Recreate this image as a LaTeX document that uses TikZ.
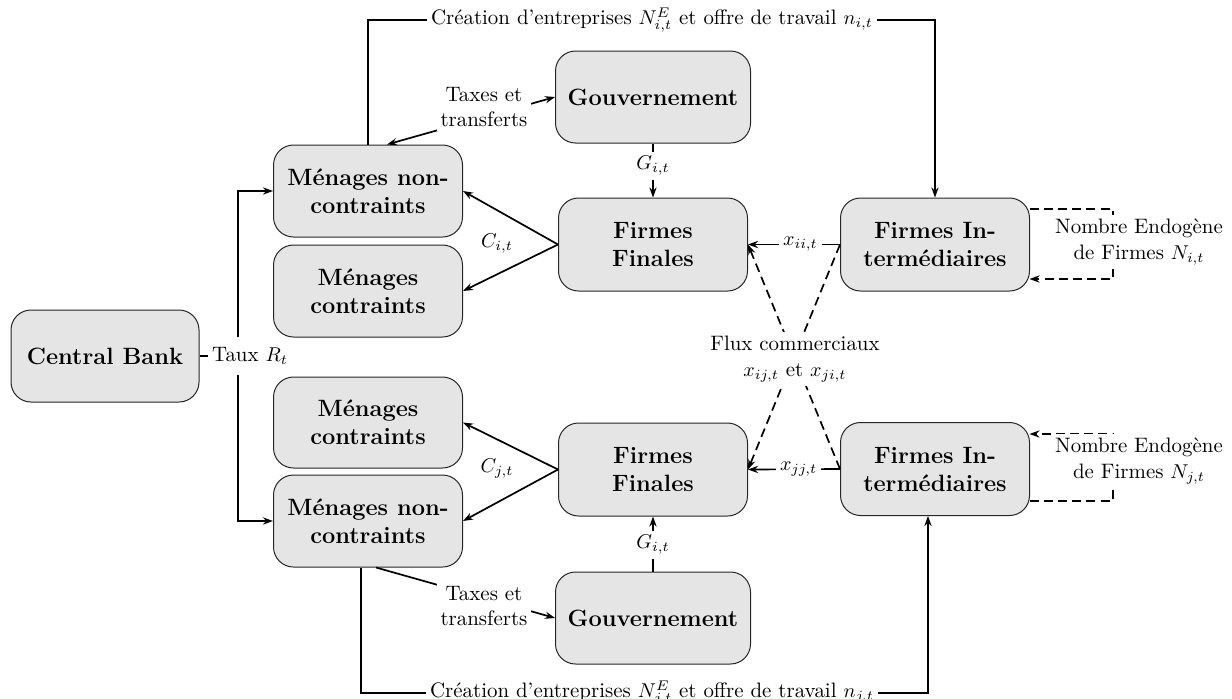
\documentclass[tikz,border=0pt]{standalone}
\usepackage{fontspec}
\usetikzlibrary{arrows.meta}
\newcommand\labfont{\fontsize{10.45}{12.6}\selectfont}
\newcommand\boxfont{\fontsize{11.8}{14}\selectfont\bfseries}
\tikzset{
  box/.style={draw=black!85, line width=0.5pt, fill=gray!20, rounded corners=10pt,
    minimum width=94.5pt, minimum height=46pt, align=center, font=\boxfont, inner sep=2pt},
  lab/.style={fill=white, inner sep=2pt, align=center, font=\labfont},
  plainlab/.style={inner sep=2pt, align=center, font=\labfont},
  conn/.style={line width=0.85pt},
  arr/.style={conn, -{Stealth[length=5pt,width=3.6pt]}},
  dsh/.style={dash pattern=on 4.5pt off 2.6pt}
}
\begin{document}
\begin{tikzpicture}[x=0.5pt,y=-0.5pt]
\useasboundingbox (0,0) rectangle (1232,698);
% boxes
\node[box, minimum width=97.5pt] (gov1) at (653,97) {Gouvernement};
\node[box] (mnc1) at (368,191) {Ménages non-\\contraints};
\node[box] (mc1) at (368,291) {Ménages\\contraints};
\node[box, minimum width=94pt] (cb) at (105,356) {Central Bank};
\node[box, minimum height=45.5pt] (mc2) at (368,422.5) {Ménages\\contraints};
\node[box] (mnc2) at (368,521) {Ménages non-\\contraints};
\node[box, minimum height=46.5pt] (ff1) at (653,244.5) {Firmes\\Finales};
\node[box, minimum height=46.5pt] (ff2) at (653,469.5) {Firmes\\Finales};
\node[box, minimum height=46.5pt] (fi1) at (935,244.5) {Firmes In-\\termédiaires};
\node[box, minimum height=46.5pt] (fi2) at (935,469) {Firmes In-\\termédiaires};
\node[box, minimum width=97.5pt] (gov2) at (653,618) {Gouvernement};

% top creation
\node[plainlab] (crea1) at (652,20) {Création d'entreprises $N^E_{i,t}$ et offre de travail $n_{i,t}$};
\draw[conn] (mnc1.north) |- (crea1.west);
\draw[arr] (crea1.east) -| (fi1.north);
% bottom creation
\node[plainlab] (crea2) at (652,693) {Création d'entreprises $N^E_{j,t}$ et offre de travail $n_{j,t}$};
\coordinate (b1) at ([xshift=-3.5pt]mnc2.south);
\coordinate (b2) at ([xshift=-3.5pt]fi2.south);
\draw[conn] (b1) |- (crea2.west);
\draw[arr] (crea2.east) -| (b2);

% taxes
\draw[conn, {Stealth[length=5pt,width=3.6pt]}-{Stealth[length=5pt,width=3.6pt]}] ([xshift=9.5pt]mnc1.north) -- (gov1.west);
\node[lab] (tx1) at (484,107) {Taxes et\\transferts};
\draw[arr] ([xshift=4pt]mnc2.south) -- (gov2.west);
\node[lab] (tx2) at (484,606) {Taxes et\\transferts};

% G
\draw[arr] (gov1.south) -- (ff1.north);
\node[lab] (g1) at (653,166) {$G_{i,t}$};
\draw[arr] (gov2.north) -- (ff2.south);
\node[lab] (g2) at (653,545) {$G_{i,t}$};

% consumption
\draw[arr] (ff1.west) -- (mnc1.east);
\draw[arr] (ff1.west) -- (mc1.east);
\node[plainlab] (ci) at (497,244) {$C_{i,t}$};
\draw[arr] (ff2.west) -- (mc2.east);
\draw[arr] (ff2.west) -- (mnc2.east);
\node[plainlab] (cj) at (497,469) {$C_{j,t}$};

% intermediate flows
\draw[arr] (fi1.west) -- node[lab, pos=0.43] (xii) {$x_{ii,t}$} (ff1.east);
\draw[arr] (fi2.west) -- node[lab, pos=0.45] (xjj) {$x_{jj,t}$} (ff2.east);

% trade flows
\draw[arr, dsh] (fi1.west) -- (ff2.east);
\draw[arr, dsh] (fi2.west) -- (ff1.east);
\node[lab] (flux) at (795,359) {Flux commerciaux\\$x_{ij,t}$ et $x_{ji,t}$};

% endogenous number of firms
\coordinate (la) at (1029.5,209);
\coordinate (lb) at (1029.5,279);
\draw[arr, dsh] (la) -- (1113,209) -- (1113,279) -- (lb);
\node[lab] (nb1) at (1139,242) {Nombre Endogène\\de Firmes $N_{i,t}$};
\coordinate (lc) at (1029.5,501);
\coordinate (ld) at (1029.5,434);
\draw[arr, dsh] (lc) -- (1113,501) -- (1113,434) -- (ld);
\node[lab] (nb2) at (1139,461) {Nombre Endogène\\de Firmes $N_{j,t}$};

% central bank
\node[plainlab] (taux) at (250,356) {Taux $R_t$};
\draw[conn] (cb.east) -- (taux.west);
\coordinate (v1) at (238,337);
\coordinate (v2) at (238,375);
\draw[arr] (v1) |- (mnc1.west);
\draw[arr] (v2) |- (mnc2.west);
\end{tikzpicture}
\end{document}
